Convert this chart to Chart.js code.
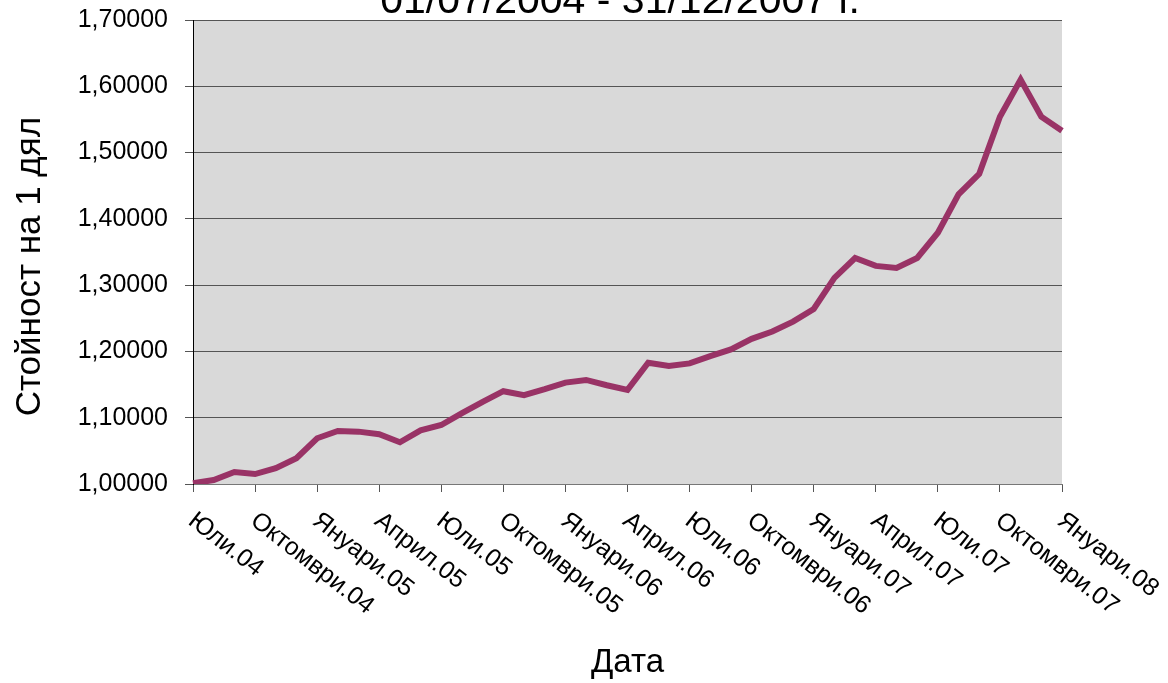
<!DOCTYPE html>
<html>
<head>
<meta charset="utf-8">
<script src="https://cdn.jsdelivr.net/npm/chart.js@4"></script>
<style>
  body { margin: 0; background: #fff; }
  #wrap { width: 1168px; height: 683px; position: relative; }
</style>
</head>
<body>
<div id="wrap"><canvas id="myChart"></canvas></div>
<script>
const categories = [
    'Юли.04', 'Август.04', 'Септември.04', 'Октомври.04', 'Ноември.04', 'Декември.04',
    'Януари.05', 'Февруари.05', 'Март.05', 'Април.05', 'Май.05', 'Юни.05',
    'Юли.05', 'Август.05', 'Септември.05', 'Октомври.05', 'Ноември.05', 'Декември.05',
    'Януари.06', 'Февруари.06', 'Март.06', 'Април.06', 'Май.06', 'Юни.06',
    'Юли.06', 'Август.06', 'Септември.06', 'Октомври.06', 'Ноември.06', 'Декември.06',
    'Януари.07', 'Февруари.07', 'Март.07', 'Април.07', 'Май.07', 'Юни.07',
    'Юли.07', 'Август.07', 'Септември.07', 'Октомври.07', 'Ноември.07', 'Декември.07',
    'Януари.08'
];
const unitValue = [
    1.001, 1.006, 1.018, 1.015, 1.024, 1.039,
    1.069, 1.080, 1.079, 1.075, 1.063, 1.081,
    1.089, 1.107, 1.124, 1.140, 1.134, 1.143,
    1.153, 1.157, 1.149, 1.142, 1.183, 1.178,
    1.182, 1.193, 1.203, 1.219, 1.230, 1.245,
    1.264, 1.311, 1.341, 1.329, 1.326, 1.341,
    1.379, 1.437, 1.468, 1.554, 1.610, 1.554,
    1.533
];
const yMin = 1.0, yMax = 1.7, yStep = 0.1;
const labelEvery = 3;
const titleText = '01/07/2004 - 31/12/2007 г.';
const yTitle = 'Стойност на 1 дял';
const xTitle = 'Дата';

const FONT = '"Liberation Sans", Arial, sans-serif';
const ctx = document.getElementById('myChart');

// grey plot area + white page
const plotBg = {
    id: 'plotBg',
    beforeDraw(chart) {
        const c = chart.ctx, a = chart.chartArea;
        c.save();
        c.fillStyle = '#ffffff';
        c.fillRect(0, 0, chart.width, chart.height);
        c.fillStyle = '#d9d9d9';
        c.fillRect(a.left, a.top, a.right - a.left, a.bottom - a.top);
        c.restore();
    }
};

// category labels slanted clockwise, starting at the tick
const slantLabels = {
    id: 'slantLabels',
    afterDraw(chart) {
        const c = chart.ctx, xs = chart.scales.x;
        c.save();
        c.font = '25px ' + FONT;
        c.fillStyle = '#000';
        c.textAlign = 'left';
        c.textBaseline = 'top';
        categories.forEach((lab, i) => {
            if (i % labelEvery !== 0) return;
            const x = xs.getPixelForValue(i);
            c.save();
            c.translate(x + 6, xs.top + 24);
            c.rotate(38 * Math.PI / 180);
            c.fillText(lab, 0, 0);
            c.restore();
        });
        c.restore();
    }
};

// chart title, cut by the top edge as in the picture
const topTitle = {
    id: 'topTitle',
    afterDraw(chart) {
        const c = chart.ctx;
        c.save();
        c.font = '41px ' + FONT;
        c.fillStyle = '#000';
        c.textAlign = 'center';
        c.textBaseline = 'alphabetic';
        c.fillText(titleText, 620, 13);
        c.restore();
    }
};

new Chart(ctx, {
    type: 'line',
    data: {
        labels: categories,
        datasets: [{
            label: 'Стойност',
            data: unitValue,
            borderColor: '#993366',
            borderWidth: 6,
            pointRadius: 0,
            tension: 0,
            fill: false
        }]
    },
    options: {
        responsive: true,
        maintainAspectRatio: false,
        animation: false,
        layout: { padding: { left: 0, right: 106, top: 20, bottom: 0 } },
        plugins: {
            legend: { display: false },
            tooltip: { enabled: false },
            title: { display: false }
        },
        scales: {
            x: {
                type: 'category',
                offset: false,
                ticks: { display: false, autoSkip: false },
                grid: {
                    drawOnChartArea: false,
                    drawTicks: true,
                    tickLength: 8,
                    tickColor: (c) => (c.index % labelEvery === 0 ? '#555' : 'rgba(0,0,0,0)')
                },
                border: { color: '#777', width: 1 },
                title: {
                    display: true,
                    text: xTitle,
                    color: '#000',
                    font: { family: FONT, size: 33 },
                    padding: { top: 0, bottom: 0 }
                },
                afterFit(scale) {
                    scale.height = 199;
                    scale.paddingLeft = 0;
                    scale.paddingRight = 0;
                }
            },
            y: {
                min: yMin,
                max: yMax,
                ticks: {
                    stepSize: yStep,
                    color: '#000',
                    padding: 17,
                    font: { family: FONT, size: 25 },
                    callback: (v) => v.toFixed(5).replace('.', ',')
                },
                grid: {
                    color: '#555',
                    lineWidth: 1,
                    drawTicks: true,
                    tickLength: 8,
                    tickColor: '#555'
                },
                border: { color: '#000', width: 1 },
                title: {
                    display: true,
                    text: yTitle + '   ',
                    color: '#000',
                    font: { family: FONT, size: 35 },
                    padding: { top: 9, bottom: 0 }
                },
                afterFit(scale) {
                    scale.width = 193;
                    scale.paddingTop = 0;
                    scale.paddingBottom = 0;
                }
            }
        }
    },
    plugins: [plotBg, slantLabels, topTitle]
});
</script>
</body>
</html>
